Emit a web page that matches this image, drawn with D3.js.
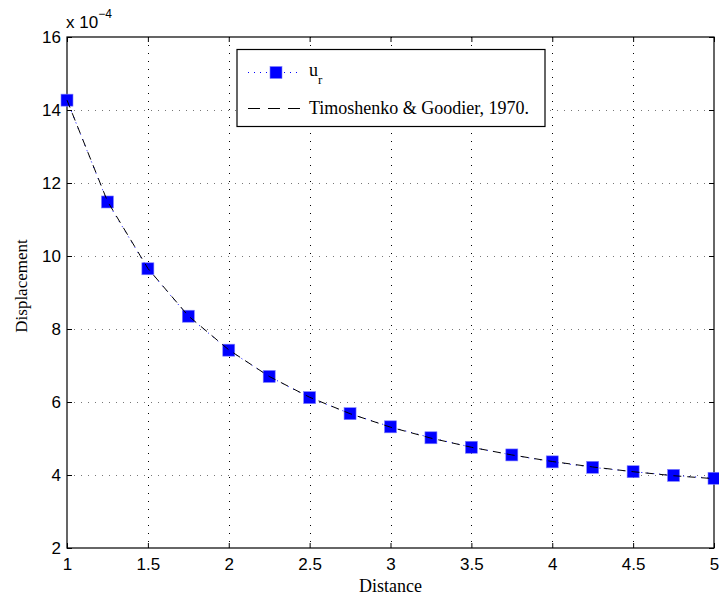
<!DOCTYPE html>
<html>
<head>
<meta charset="utf-8">
<script src="https://cdn.jsdelivr.net/npm/d3@7"></script>
<style>
  html, body { margin: 0; padding: 0; background: #fff; }
  svg { display: block; }
</style>
</head>
<body>
<svg id="chart" width="719" height="599"></svg>
<script>
// Radial displacement along the distance from the hole (values in units of 1e-4)
const distance = [1, 1.25, 1.5, 1.75, 2, 2.25, 2.5, 2.75, 3, 3.25, 3.5, 3.75, 4, 4.25, 4.5, 4.75, 5];
const uNumeric = [14.27, 11.48, 9.65, 8.35, 7.42, 6.70, 6.12, 5.68, 5.32, 5.02, 4.76, 4.55, 4.36, 4.21, 4.09, 3.99, 3.91];
const uAnalytic = [14.27, 11.50, 9.66, 8.36, 7.43, 6.70, 6.13, 5.68, 5.31, 5.01, 4.76, 4.55, 4.37, 4.22, 4.09, 3.98, 3.90];
const xTicks = [1, 1.5, 2, 2.5, 3, 3.5, 4, 4.5, 5];
const yTicks = [2, 4, 6, 8, 10, 12, 14, 16];
const seriesNames = ["u", "Timoshenko & Goodier, 1970."];

const svg = d3.select("#chart");
const margin = { left: 67, top: 37, right: 5, bottom: 51 };
const W = 719, H = 599;
const x = d3.scaleLinear().domain([1, 5]).range([margin.left, W - margin.right]);
const y = d3.scaleLinear().domain([2, 16]).range([H - margin.bottom, margin.top]);

const sans = "'Liberation Sans', Arial, sans-serif";
const serif = "'Liberation Serif', 'Times New Roman', serif";

const x0 = x.range()[0], x1 = x.range()[1];
const yB = y.range()[0], yT = y.range()[1];

// Dotted grid
const grid = svg.append("g");
grid.selectAll("line.vg").data(xTicks.slice(1, -1)).join("line")
  .attr("x1", d => Math.round(x(d)) + 0.5).attr("x2", d => Math.round(x(d)) + 0.5)
  .attr("y1", yT).attr("y2", yB)
  .attr("stroke", "#000").attr("stroke-width", 1).attr("stroke-dasharray", "1,7");
grid.selectAll("line.hg").data(yTicks.slice(1, -1)).join("line")
  .attr("x1", x0).attr("x2", x1)
  .attr("y1", d => Math.round(y(d)) + 0.5).attr("y2", d => Math.round(y(d)) + 0.5)
  .attr("stroke", "#777").attr("stroke-width", 1).attr("stroke-dasharray", "1,6");

// Axes with inward ticks on all four sides
const tickLen = 5;
const bottomAxis = d3.axisBottom(x).tickValues(xTicks).tickSize(-tickLen).tickPadding(10)
  .tickFormat(d3.format("~g"));
const topAxis = d3.axisTop(x).tickValues(xTicks).tickSize(-tickLen).tickFormat("");
const leftAxis = d3.axisLeft(y).tickValues(yTicks).tickSize(-tickLen).tickPadding(6)
  .tickFormat(d3.format("~g"));
const rightAxis = d3.axisRight(y).tickValues(yTicks).tickSize(-tickLen).tickFormat("");

function style(g) {
  g.select(".domain").remove();
  g.selectAll(".tick line").attr("stroke", "#000");
  g.selectAll(".tick text").attr("fill", "#000").attr("font-family", sans).attr("font-size", 17);
}
svg.append("g").attr("transform", `translate(0,${yB})`).call(bottomAxis).call(style);
svg.append("g").attr("transform", `translate(0,${yT})`).call(topAxis).call(style);
svg.append("g").attr("transform", `translate(${x0},0)`).call(leftAxis).call(style);
svg.append("g").attr("transform", `translate(${x1},0)`).call(rightAxis).call(style);

// Frame
svg.append("rect")
  .attr("x", x0).attr("y", yT).attr("width", x1 - x0).attr("height", yB - yT)
  .attr("fill", "none").attr("stroke", "#000").attr("stroke-width", 1.2);

// Exponent note
const expo = svg.append("text").attr("x", x0 - 1).attr("y", 28)
  .attr("font-family", sans).attr("font-size", 17).attr("fill", "#000");
expo.append("tspan").text("x 10");
expo.append("tspan").attr("dy", -10).attr("font-size", 12).text("\u22124");

// Axis titles
svg.append("text").attr("x", (x0 + x1) / 2).attr("y", 592)
  .attr("text-anchor", "middle").attr("font-family", serif).attr("font-size", 18)
  .text("Distance");
svg.append("text")
  .attr("transform", `translate(27,286) rotate(-90)`)
  .attr("text-anchor", "middle").attr("font-family", serif).attr("font-size", 17)
  .text("Displacement");

// Series
const pts = distance.map((d, i) => ({ x: d, num: uNumeric[i], ana: uAnalytic[i] }));
const lineNum = d3.line().x(d => x(d.x)).y(d => y(d.num));
const lineAna = d3.line().x(d => x(d.x)).y(d => y(d.ana));

const plot = svg.append("g");
plot.append("path").datum(pts).attr("d", lineNum)
  .attr("fill", "none").attr("stroke", "#0000ff").attr("stroke-width", 1)
  .attr("stroke-dasharray", "1,5");
const ms = 12;
plot.selectAll("rect.m").data(pts).join("rect")
  .attr("x", d => x(d.x) - ms / 2).attr("y", d => y(d.num) - ms / 2)
  .attr("width", ms).attr("height", ms)
  .attr("fill", "#0000ff").attr("stroke", "#8080ff").attr("stroke-width", 0.6);
plot.append("path").datum(pts).attr("d", lineAna)
  .attr("fill", "none").attr("stroke", "#000").attr("stroke-width", 1)
  .attr("stroke-dasharray", "8,6");

// Legend
const lg = svg.append("g");
lg.append("rect").attr("x", 237).attr("y", 49.5).attr("width", 308).attr("height", 77)
  .attr("fill", "#fff").attr("stroke", "#000").attr("stroke-width", 1.2);
lg.append("line").attr("x1", 248).attr("x2", 300).attr("y1", 72.5).attr("y2", 72.5)
  .attr("stroke", "#0000ff").attr("stroke-dasharray", "1,5");
lg.append("rect").attr("x", 276 - ms / 2).attr("y", 72.5 - ms / 2).attr("width", ms).attr("height", ms)
  .attr("fill", "#0000ff").attr("stroke", "#8080ff").attr("stroke-width", 0.6);
const t1 = lg.append("text").attr("x", 309).attr("y", 76)
  .attr("font-family", serif).attr("font-size", 18).attr("fill", "#000");
t1.append("tspan").text(seriesNames[0]);
t1.append("tspan").attr("dy", 8).attr("font-size", 13).text("r");
lg.append("line").attr("x1", 248).attr("x2", 300).attr("y1", 108.5).attr("y2", 108.5)
  .attr("stroke", "#000").attr("stroke-dasharray", "12,8");
lg.append("text").attr("x", 309).attr("y", 114)
  .attr("font-family", serif).attr("font-size", 18).attr("fill", "#000")
  .text(seriesNames[1]);
</script>
</body>
</html>
